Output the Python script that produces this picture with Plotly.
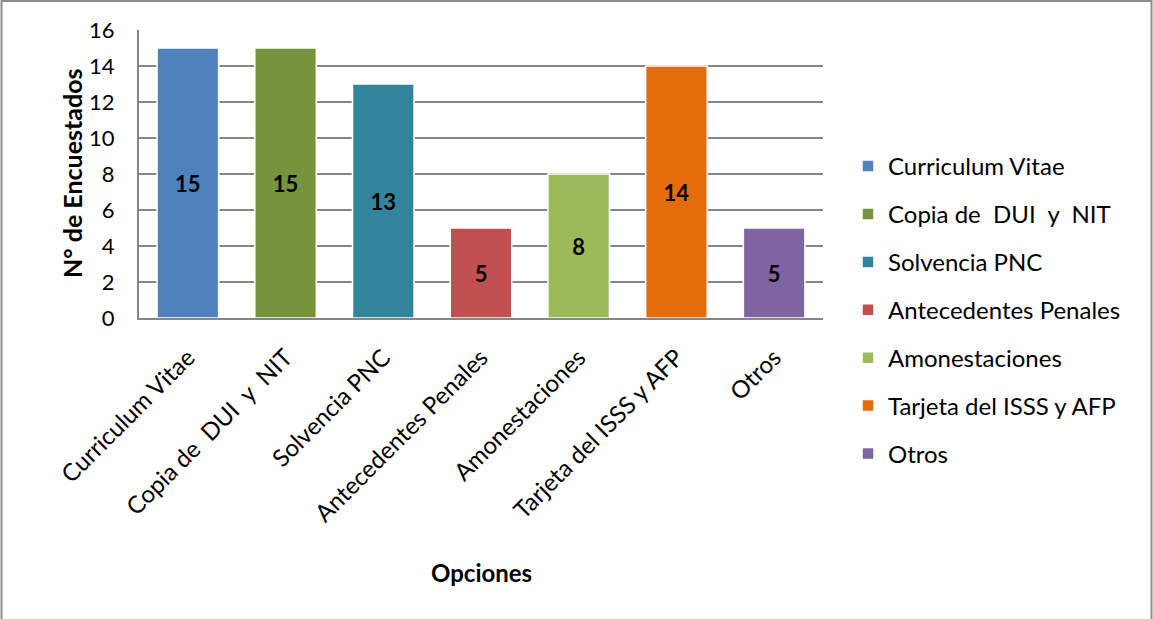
import plotly.graph_objects as go

categories = [
    "Curriculum Vitae",
    "Copia de  DUI  y  NIT",
    "Solvencia PNC",
    "Antecedentes Penales",
    "Amonestaciones",
    "Tarjeta del ISSS y AFP",
    "Otros",
]
values = [15, 15, 13, 5, 8, 14, 5]
colors = ["#4F81BD", "#77933C", "#31859C", "#C0504D", "#9BBB59", "#E46C0A", "#8064A2"]
y_ticks = [0, 2, 4, 6, 8, 10, 12, 14, 16]

W, H = 1153, 619
ML, MR, MT, MB = 139, 330, 30, 301
PW, PH = W - ML - MR, H - MT - MB

FONT = "Lato"


def px_x(x):
    return (x - ML) / PW


def px_y(y):
    return (H - y - MB) / PH


fig = go.Figure()
for cat, val, col in zip(categories, values, colors):
    fig.add_trace(go.Bar(
        x=[cat], y=[val], name=cat, legendgroup=cat,
        marker=dict(color=col, line=dict(color="white", width=1.5)),
        text=[str(val)], textposition="inside", insidetextanchor="middle",
        textfont=dict(family=FONT, size=22, color="black", weight="bold"),
        width=0.63,
    ))

fig.update_layout(
    width=W, height=H,
    margin=dict(l=ML, r=MR, t=MT, b=MB),
    paper_bgcolor="white", plot_bgcolor="white",
    font=dict(family=FONT, color="black"),
    showlegend=True,
    legend=dict(
        x=px_x(848), y=px_y(144), xanchor="left", yanchor="top",
        font=dict(family=FONT, size=24, color="black"),
        tracegroupgap=13.7, itemwidth=30, maxheight=520,
    ),
    xaxis=dict(
        categoryorder="array", categoryarray=categories,
        tickangle=-45, tickfont=dict(family=FONT, size=24),
        showline=True, linecolor="#868686", linewidth=2,
        showgrid=False, ticks="", ticklabelstandoff=14,
    ),
    yaxis=dict(
        range=[0, 16], tickvals=y_ticks,
        tickfont=dict(family=FONT, size=22),
        showgrid=True, gridcolor="#868686", gridwidth=2,
        showline=True, linecolor="#868686", linewidth=2,
        ticks="", ticklabelstandoff=18, zeroline=False,
    ),
    bargap=0.37,
    annotations=[
        dict(text="<b>Opciones</b>", xref="paper", yref="paper",
             x=px_x(481), y=px_y(572), xanchor="center", yanchor="middle",
             showarrow=False, font=dict(family=FONT, size=24)),
        dict(text="<b>N° de Encuestados</b>", xref="paper", yref="paper",
             x=px_x(72), y=px_y(173), xanchor="center", yanchor="middle",
             textangle=-90, showarrow=False, font=dict(family=FONT, size=25)),
    ],
    shapes=[
        dict(type="rect", xref="paper", yref="paper",
             x0=px_x(1.5), x1=px_x(1151.5), y0=px_y(640), y1=px_y(1),
             line=dict(color="#8C8C8C", width=2), layer="below"),
    ],
)

fig.write_html("out.html")
